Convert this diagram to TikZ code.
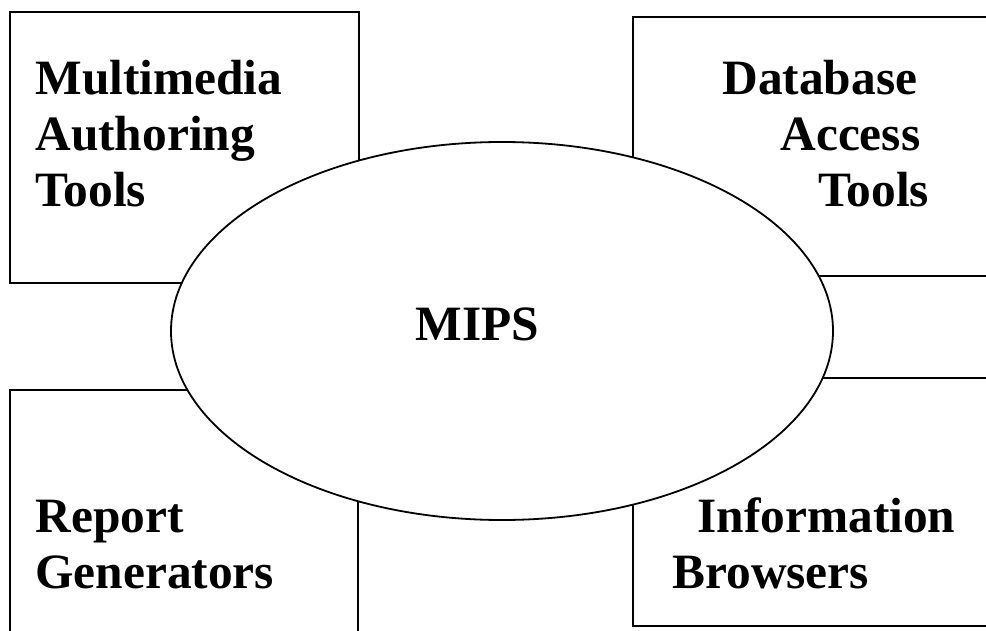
\documentclass[tikz,border=0pt]{standalone}
\usepackage{fontspec}
\setmainfont{Liberation Serif}
\usetikzlibrary{shapes.geometric}

\tikzset{
  toolbox/.style={draw,line width=0.9pt},
  hub/.style={ellipse,draw,fill=white,line width=0.9pt,inner sep=0pt,
    minimum width=331pt,minimum height=189pt},
  lbl/.style={anchor=base west,inner sep=0pt,align=left,
    font=\fontsize{24.7}{27.9}\selectfont\bfseries},
}

\begin{document}
\begin{tikzpicture}[x=0.5pt,y=-0.5pt]
\useasboundingbox (0,0) rectangle (986,631);
\clip (0,0) rectangle (986,631);

% the four tool boxes
\draw[toolbox] (10,12) rectangle (359,283);
\draw[toolbox] (633,17) rectangle (1000,276);
\draw[toolbox] (10,390) rectangle (358,660);
\draw[toolbox] (633,378) rectangle (1000,626);

% MIPS in the middle, over the boxes
\node[hub] (hub) at (502,331) {};
\node[lbl] (mips) at (415,340) {MIPS};

% labels, placed at the base of their last line
\node[lbl] (authoring) at (35,206) {Multimedia\\Authoring\\Tools};
\node[lbl] (dbaccess) at (722,206) {Database\\\hspace*{29pt}Access\\\hspace*{48pt}Tools};
\node[lbl] (report) at (35,588) {Report\\Generators};
\node[lbl] (browsers) at (672,588) {\hspace*{12.5pt}Information\\Browsers};

\end{tikzpicture}
\end{document}
